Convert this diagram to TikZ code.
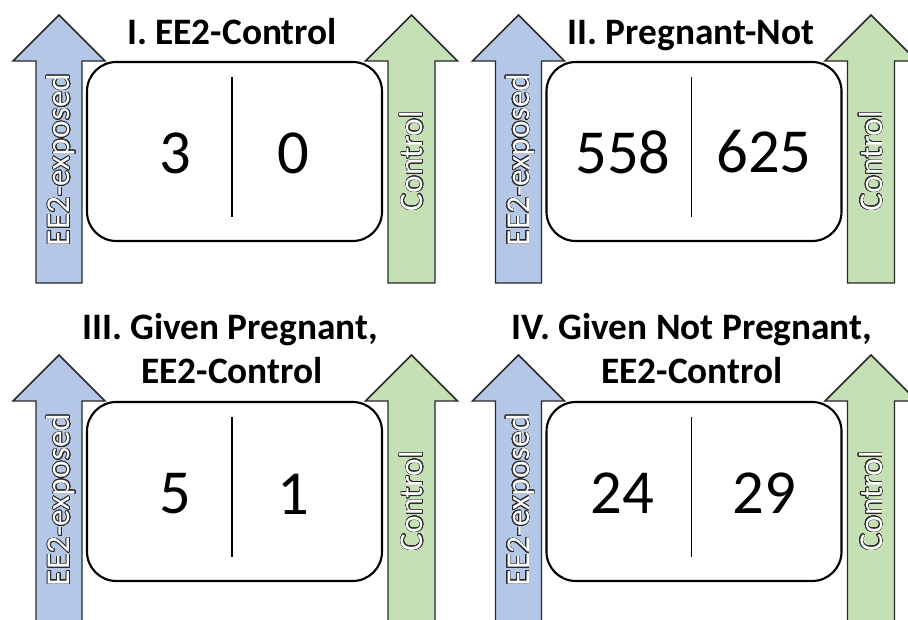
\documentclass[tikz,border=0pt]{standalone}
\usepackage{fontspec}
\setmainfont{Carlito}
\usepackage{contour}
\contourlength{0.45pt}
\contournumber{24}
\definecolor{arrblue}{RGB}{180,199,231}
\definecolor{arrgreen}{RGB}{197,224,180}
\definecolor{outl}{RGB}{40,40,40}
\tikzset{
  arrowshape/.style={draw=outl, line width=1.1pt, line join=miter},
  bluearr/.style={arrowshape, fill=arrblue},
  greenarr/.style={arrowshape, fill=arrgreen},
  tablebox/.style={draw=black, line width=1.6pt, rounded corners=22pt},
  divider/.style={draw=black, line width=0.8pt},
  numtext/.style={font=\fontsize{47}{56}\selectfont, inner sep=0pt},
  titletext/.style={font=\fontsize{28}{34}\selectfont\bfseries, inner sep=0pt, anchor=base},
  armlabel/.style={font=\fontsize{25}{30}\selectfont, rotate=90, inner sep=0pt, text=white},
}
\newcommand{\EEpanel}[8]{% #1 id, #2 dx, #3 dy, #4 left num, #5 right num, #6 left x, #7 right x, #8 num y
\begin{scope}[shift={(#2,#3)}]
  \draw[bluearr] (59,15) -- (105,61) -- (82,61) -- (82,283) -- (36,283) -- (36,61) -- (13,61) -- cycle;
  \draw[greenarr] (411.5,15) -- (457.5,61) -- (435,61) -- (435,283) -- (388,283) -- (388,61) -- (365.5,61) -- cycle;
  \node[armlabel] (ee#1) at (61,160) {\contour{outl}{EE2-exposed}};
  \node[armlabel] (ct#1) at (411.5,161) {\contour{outl}{Control}};
  \node[tablebox, minimum width=295*0.75pt, minimum height=179*0.75pt] (box#1) at (234.5,151.5) {};
  \coordinate (dt#1) at (232,77);
  \coordinate (db#1) at (232,217);
  \draw[divider] (dt#1) -- (db#1);
  \node[numtext] (nl#1) at (#6,#8) {#4};
  \node[numtext] (nr#1) at (#7,#8) {#5};
\end{scope}}
\begin{document}
\begin{tikzpicture}[x=0.75pt, y=-0.75pt]
  \useasboundingbox (0,0) rectangle (908,619);
  \fill[white] (0,0) rectangle (908,619);
  \clip (0,0) rectangle (908,619);
  \EEpanel{1}{0}{0}{3}{0}{175}{293}{153}
  \EEpanel{2}{459.5}{0}{558}{625}{163.5}{304.5}{152}
  \EEpanel{3}{0}{340}{5}{1}{175}{293}{154}
  \EEpanel{4}{459.5}{340}{24}{29}{162.5}{304.5}{153}
  \node[titletext] (t1) at (232,44) {I. EE2-Control};
  \node[titletext] (t2) at (691,44) {II. Pregnant-Not};
  \node[titletext] (t3a) at (230,339) {III. Given Pregnant,};
  \node[titletext] (t3b) at (232,383) {EE2-Control};
  \node[titletext] (t4a) at (692,339) {IV. Given Not Pregnant,};
  \node[titletext] (t4b) at (692,383) {EE2-Control};
\end{tikzpicture}
\end{document}
